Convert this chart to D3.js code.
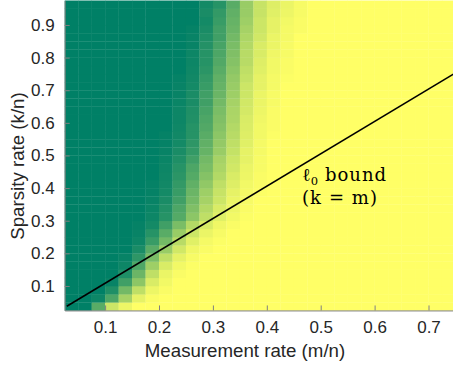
<!DOCTYPE html>
<html><head><meta charset="utf-8">
<script src="https://cdn.jsdelivr.net/npm/d3@7"></script>
<style>body{margin:0;background:#fff} svg{display:block}</style>
</head><body><svg id="c" width="453" height="369"></svg>
<script>
// grid edges (pcolor style): 30 x-edges, 39 y-edges
const xGrid = [0.025,0.05,0.075,0.1,0.125,0.15,0.175,0.2,0.225,0.25,0.275,0.3,0.325,0.35,0.375,0.4,0.425,0.45,0.475,0.5,0.525,0.55,0.575,0.6,0.625,0.65,0.675,0.7,0.725,0.75];
const yGrid = [0.025,0.05,0.075,0.1,0.125,0.15,0.175,0.2,0.225,0.25,0.275,0.3,0.325,0.35,0.375,0.4,0.425,0.45,0.475,0.5,0.525,0.55,0.575,0.6,0.625,0.65,0.675,0.7,0.725,0.75,0.775,0.8,0.825,0.85,0.875,0.9,0.925,0.95,0.975];
const xTicks = [0.1,0.2,0.3,0.4,0.5,0.6,0.7];
const yTicks = [0.1,0.2,0.3,0.4,0.5,0.6,0.7,0.8,0.9];
// success rate, row 0 = bottom (k/n = 0.025), 29 columns each
const success = [
[0,0,.35,.8,.93, 1,1,1,1,1, 1,1,1,1,1, 1,1,1,1,1, 1,1,1,1,1, 1,1,1,1],
[0,0,.05,.3,.65,.9,.98, 1,1,1, 1,1,1,1,1, 1,1,1,1,1, 1,1,1,1,1, 1,1,1,1],
[0,0,0,.12,.45,.75,.93,.98, 1,1, 1,1,1,1,1, 1,1,1,1,1, 1,1,1,1,1, 1,1,1,1],
[0,0,0,.03,.25,.55,.85,.95, 1,1, 1,1,1,1,1, 1,1,1,1,1, 1,1,1,1,1, 1,1,1,1],
[0,0,0,0,.12,.42,.75,.92,.98, 1, 1,1,1,1,1, 1,1,1,1,1, 1,1,1,1,1, 1,1,1,1],
[0,0,0,0,.05,.3,.62,.85,.95,.99, 1,1,1,1,1, 1,1,1,1,1, 1,1,1,1,1, 1,1,1,1],
[0,0,0,0,.03,.18,.48,.75,.9,.97, 1,1,1,1,1, 1,1,1,1,1, 1,1,1,1,1, 1,1,1,1],
[0,0,0,0,0,.1,.35,.6,.82,.94,.98, 1,1,1,1, 1,1,1,1,1, 1,1,1,1,1, 1,1,1,1],
[0,0,0,0,0,.05,.22,.45,.72,.88,.96,.99, 1,1,1, 1,1,1,1,1, 1,1,1,1,1, 1,1,1,1],
[0,0,0,0,0,.03,.15,.35,.6,.8,.92,.97, 1,1,1, 1,1,1,1,1, 1,1,1,1,1, 1,1,1,1],
[0,0,0,0,0,.02,.08,.25,.48,.7,.85,.94,.98, 1,1, 1,1,1,1,1, 1,1,1,1,1, 1,1,1,1],
[0,0,0,0,0,0,.05,.15,.33,.55,.75,.88,.95,.99, 1, 1,1,1,1,1, 1,1,1,1,1, 1,1,1,1],
[0,0,0,0,0,0,.04,.13,.3,.5,.7,.85,.93,.98, 1, 1,1,1,1,1, 1,1,1,1,1, 1,1,1,1],
[0,0,0,0,0,0,.03,.1,.25,.45,.65,.8,.92,.97, 1, 1,1,1,1,1, 1,1,1,1,1, 1,1,1,1],
[0,0,0,0,0,0,.02,.08,.22,.42,.62,.78,.9,.96,.99, 1,1,1,1,1, 1,1,1,1,1, 1,1,1,1],
[0,0,0,0,0,0,.02,.07,.2,.38,.57,.75,.87,.95,.98, 1,1,1,1,1, 1,1,1,1,1, 1,1,1,1],
[0,0,0,0,0,0,0,.06,.17,.33,.52,.7,.85,.93,.98, 1,1,1,1,1, 1,1,1,1,1, 1,1,1,1],
[0,0,0,0,0,0,0,.05,.15,.3,.48,.67,.82,.92,.97, 1,1,1,1,1, 1,1,1,1,1, 1,1,1,1],
[0,0,0,0,0,0,0,.04,.12,.25,.45,.65,.8,.9,.97, 1,1,1,1,1, 1,1,1,1,1, 1,1,1,1],
[0,0,0,0,0,0,0,.03,.1,.2,.4,.6,.77,.9,.96, 1,1,1,1,1, 1,1,1,1,1, 1,1,1,1],
[0,0,0,0,0,0,0,.02,.08,.18,.38,.58,.75,.88,.96, 1,1,1,1,1, 1,1,1,1,1, 1,1,1,1],
[0,0,0,0,0,0,0,.02,.07,.15,.35,.55,.72,.87,.95,.99, 1,1,1,1, 1,1,1,1,1, 1,1,1,1],
[0,0,0,0,0,0,0,0,.06,.15,.32,.52,.7,.86,.95,.98, 1,1,1,1, 1,1,1,1,1, 1,1,1,1],
[0,0,0,0,0,0,0,0,.05,.13,.3,.5,.68,.85,.94,.98, 1,1,1,1, 1,1,1,1,1, 1,1,1,1],
[0,0,0,0,0,0,0,0,.05,.12,.28,.48,.67,.83,.93,.98, 1,1,1,1, 1,1,1,1,1, 1,1,1,1],
[0,0,0,0,0,0,0,0,.04,.1,.25,.45,.65,.82,.92,.97, 1,1,1,1, 1,1,1,1,1, 1,1,1,1],
[0,0,0,0,0,0,0,0,.03,.1,.25,.42,.62,.8,.92,.97, 1,1,1,1, 1,1,1,1,1, 1,1,1,1],
[0,0,0,0,0,0,0,0,.03,.08,.22,.4,.6,.8,.9,.96, 1,1,1,1, 1,1,1,1,1, 1,1,1,1],
[0,0,0,0,0,0,0,0,.02,.07,.2,.38,.58,.77,.9,.96,.99, 1,1,1, 1,1,1,1,1, 1,1,1,1],
[0,0,0,0,0,0,0,0,0,.06,.17,.35,.55,.75,.88,.95,.98, 1,1,1, 1,1,1,1,1, 1,1,1,1],
[0,0,0,0,0,0,0,0,0,.05,.15,.32,.52,.72,.87,.95,.98, 1,1,1, 1,1,1,1,1, 1,1,1,1],
[0,0,0,0,0,0,0,0,0,.05,.15,.3,.5,.72,.85,.94,.97, 1,1,1, 1,1,1,1,1, 1,1,1,1],
[0,0,0,0,0,0,0,0,0,.03,.14,.28,.48,.7,.85,.92,.97, 1,1,1, 1,1,1,1,1, 1,1,1,1],
[0,0,0,0,0,0,0,0,0,.03,.12,.25,.45,.68,.82,.92,.96, 1,1,1, 1,1,1,1,1, 1,1,1,1],
[0,0,0,0,0,0,0,0,0,.02,.1,.25,.42,.65,.8,.9,.96,.98, 1,1, 1,1,1,1,1, 1,1,1,1],
[0,0,0,0,0,0,0,0,0,0,.08,.22,.4,.62,.8,.9,.95,.98, 1,1, 1,1,1,1,1, 1,1,1,1],
[0,0,0,0,0,0,0,0,0,0,.1,.2,.38,.6,.78,.88,.93,.97, 1,1, 1,1,1,1,1, 1,1,1,1],
[0,0,0,0,0,0,0,0,0,0,.08,.15,.35,.6,.78,.87,.92,.97, 1,1, 1,1,1,1,1, 1,1,1,1]
];
// l0 bound line (k = m)
const boundX = [0.029, 0.75];
const boundY = [0.038, 0.753];

const svg = d3.select("#c");
const x = d3.scaleLinear().domain([0.025, 0.75]).range([64.675, 455.45]);
const y = d3.scaleLinear().domain([0.025, 0.975]).range([310.44, 0.5]);
const summer = v => d3.rgb(255*v, 255*(0.5 + v/2), 102).toString();

const cells = [];
success.forEach((row, i) => row.forEach((v, j) => cells.push({i, j, v})));
svg.append("g").selectAll("rect").data(cells).join("rect")
  .attr("x", d => x(xGrid[d.j]))
  .attr("y", d => y(yGrid[d.i + 1]))
  .attr("width", d => x(xGrid[d.j + 1]) - x(xGrid[d.j]) + 0.3)
  .attr("height", d => y(yGrid[d.i]) - y(yGrid[d.i + 1]) + 0.3)
  .attr("fill", d => summer(d.v));

svg.append("line")
  .attr("x1", x(boundX[0])).attr("y1", y(boundY[0]))
  .attr("x2", x(boundX[1])).attr("y2", y(boundY[1]))
  .attr("stroke", "#000").attr("stroke-width", 1.6);

const font = "'Liberation Sans', Arial, Helvetica, sans-serif";
const gx = svg.append("g").attr("transform", "translate(0,310.44)")
  .call(d3.axisBottom(x).tickValues(xTicks).tickFormat(d3.format(".1f")).tickSizeInner(-5).tickSizeOuter(0).tickPadding(10));
const gy = svg.append("g").attr("transform", "translate(64.675,0)")
  .call(d3.axisLeft(y).tickValues(yTicks).tickFormat(d3.format(".1f")).tickSizeInner(-5).tickSizeOuter(0).tickPadding(10));
[gx, gy].forEach(g => {
  g.select(".domain").attr("stroke", "#808080").attr("stroke-width", 1);
  g.selectAll(".tick line").attr("stroke", "#808080");
  g.selectAll(".tick text").attr("fill", "#262626").attr("font-family", font).attr("font-size", 17);
});

svg.append("text").attr("x", 245).attr("y", 357).attr("text-anchor", "middle")
  .attr("font-family", font).attr("font-size", 18.7).attr("fill", "#262626")
  .text("Measurement rate (m/n)");
svg.append("text").attr("transform", "translate(23.5,166) rotate(-90)").attr("text-anchor", "middle")
  .attr("font-family", font).attr("font-size", 18.7).attr("fill", "#262626")
  .text("Sparsity rate (k/n)");

const serif = "'DejaVu Serif', serif";
const t1 = svg.append("text").attr("x", 302).attr("y", 180.5).attr("font-family", serif).attr("font-size", 18);
t1.append("tspan").text("ℓ");
t1.append("tspan").attr("font-size", 11.5).attr("dy", 4).text("0");
t1.append("tspan").attr("x", 325).attr("dy", -4).attr("textLength", 61).attr("lengthAdjust", "spacing").text("bound");
svg.append("text").attr("x", 302).attr("y", 204).attr("font-family", serif).attr("font-size", 18)
  .attr("textLength", 75).attr("lengthAdjust", "spacing").text("(k = m)");
</script>
</body></html>
